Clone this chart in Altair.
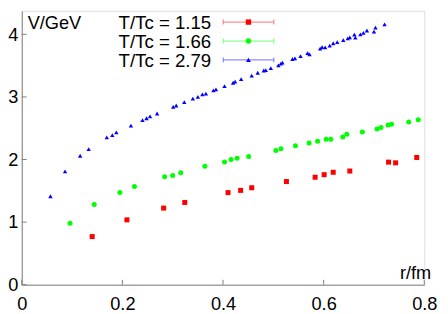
import altair as alt
import pandas as pd

# ---- data ----
r_115 = [0.140, 0.209, 0.282, 0.324, 0.410, 0.435, 0.457, 0.526, 0.583, 0.601, 0.619,
         0.652, 0.729, 0.743, 0.785]
v_115 = [0.769, 1.036, 1.224, 1.314, 1.471, 1.507, 1.549, 1.648, 1.717, 1.758, 1.796,
         1.816, 1.958, 1.947, 2.032]

r_166 = [0.096, 0.144, 0.195, 0.224, 0.284, 0.300, 0.316, 0.364, 0.403, 0.416, 0.428,
         0.451, 0.505, 0.515, 0.544, 0.571, 0.588, 0.605, 0.614, 0.638, 0.646, 0.677,
         0.706, 0.714, 0.728, 0.735, 0.769, 0.788]
v_166 = [0.980, 1.280, 1.473, 1.567, 1.724, 1.746, 1.787, 1.892, 1.962, 1.999, 2.019,
         2.050, 2.144, 2.171, 2.218, 2.265, 2.290, 2.322, 2.322, 2.361, 2.402, 2.439,
         2.486, 2.511, 2.553, 2.564, 2.600, 2.636]

r_279 = [0.057, 0.086, 0.116, 0.133, 0.169, 0.180, 0.188, 0.217, 0.240, 0.248, 0.255,
         0.269, 0.301, 0.307, 0.323, 0.340, 0.350, 0.359, 0.366, 0.381, 0.386, 0.403,
         0.420, 0.424, 0.436, 0.457, 0.469, 0.481, 0.485, 0.495, 0.510, 0.515, 0.518,
         0.538, 0.543, 0.554, 0.568, 0.572, 0.593, 0.597, 0.603, 0.612, 0.619, 0.627,
         0.639, 0.648, 0.652, 0.661, 0.663, 0.673, 0.679, 0.686, 0.700, 0.703, 0.721]
v_279 = [1.413, 1.812, 2.060, 2.165, 2.353, 2.389, 2.433, 2.542, 2.628, 2.659, 2.688,
         2.735, 2.840, 2.863, 2.918, 2.973, 3.002, 3.041, 3.053, 3.104, 3.119, 3.171,
         3.226, 3.245, 3.284, 3.339, 3.386, 3.422, 3.429, 3.460, 3.504, 3.532, 3.548,
         3.606, 3.617, 3.653, 3.700, 3.680, 3.771, 3.794, 3.790, 3.818, 3.857, 3.876,
         3.907, 3.936, 3.951, 3.994, 3.947, 3.998, 4.022, 4.061, 4.042, 4.108, 4.159]

labels = ["T/Tc = 1.15", "T/Tc = 1.66", "T/Tc = 2.79"]
colors = ["#ff0000", "#00ff00", "#0000ff"]
line_colors = ["#ff8c8c", "#8cff8c", "#8c8cff"]
shapes = ["square", "circle", "triangle-up"]
sizes = [26, 26, 20]
x_ticks = [0, 0.2, 0.4, 0.6, 0.8]
y_ticks = [0, 1, 2, 3, 4]

W, H = 410, 279
FONT = "Liberation Sans"
AX = "#7f7f7f"

xs = alt.Scale(domain=[0, 0.8], nice=False, zero=False)
ys = alt.Scale(domain=[0, 4.376], nice=False, zero=False)
xax = alt.Axis(values=x_ticks, format="~g", title=None, grid=False, tickSize=0,
               labelPadding=10, labelFontSize=18.5, labelFont=FONT, labelColor="black",
               domainColor=AX, labelFlush=False, labelOverlap=False)
yax = alt.Axis(values=y_ticks, format="d", title=None, grid=False, tickSize=0,
               labelPadding=4, labelFontSize=18.5, labelFont=FONT, labelColor="black",
               domainColor=AX, labelFlush=False, labelOverlap=False)

series = [(r_115, v_115), (r_166, v_166), (r_279, v_279)]
layers = []
for i, (rr, vv) in enumerate(series):
    df = pd.DataFrame({"r": rr, "v": vv})
    layers.append(
        alt.Chart(df).mark_point(filled=True, shape=shapes[i], size=sizes[i],
                                 color=colors[i], opacity=1, strokeWidth=0)
        .encode(x=alt.X("r:Q", scale=xs, axis=xax), y=alt.Y("v:Q", scale=ys, axis=yax))
    )

# inward ticks
layers.append(
    alt.Chart(pd.DataFrame({"t": x_ticks})).mark_rule(color=AX, strokeWidth=1)
    .encode(x=alt.X("t:Q", scale=xs, axis=xax), y=alt.value(H), y2=alt.value(H - 5))
)
layers.append(
    alt.Chart(pd.DataFrame({"t": y_ticks})).mark_rule(color=AX, strokeWidth=1)
    .encode(y=alt.Y("t:Q", scale=ys, axis=yax), x=alt.value(0), x2=alt.value(5))
)

# legend (drawn by hand, gnuplot style)
rows = [11.5, 30.8, 50.0]
lx0, lx1, lxm, ltx = 205.3, 256.7, 230.9, 193
for i, lab in enumerate(labels):
    d = pd.DataFrame({"label": [lab]})
    yr = rows[i]
    layers.append(alt.Chart(d).mark_text(align="right", baseline="middle", font=FONT,
                                         fontSize=19, color="black")
                  .encode(x=alt.value(ltx), y=alt.value(yr + 0.8), text="label:N"))
    layers.append(alt.Chart(d).mark_rule(color=line_colors[i], strokeWidth=1.3)
                  .encode(x=alt.value(lx0), x2=alt.value(lx1), y=alt.value(yr)))
    for xc in (lx0, lx1):
        layers.append(alt.Chart(d).mark_rule(color=line_colors[i], strokeWidth=1.3)
                      .encode(x=alt.value(xc), y=alt.value(yr - 2.5), y2=alt.value(yr + 2.5)))
    layers.append(alt.Chart(d).mark_point(filled=True, shape=shapes[i], size=sizes[i] + 4,
                                          color=colors[i], opacity=1, strokeWidth=0)
                  .encode(x=alt.value(lxm), y=alt.value(yr)))

# axis titles placed inside the frame
layers.append(alt.Chart(pd.DataFrame({"t": ["V/GeV"]}))
              .mark_text(align="left", baseline="middle", font=FONT, fontSize=18.5, color="black")
              .encode(x=alt.value(6), y=alt.value(12.5), text="t:N"))
layers.append(alt.Chart(pd.DataFrame({"t": ["r/fm"]}))
              .mark_text(align="right", baseline="middle", font=FONT, fontSize=18.5, color="black")
              .encode(x=alt.value(417), y=alt.value(267), text="t:N"))

chart = alt.layer(*layers).properties(
    width=W, height=H,
    autosize=alt.AutoSizeParams(type="none"),
    padding={"left": 14, "top": 0, "right": 16, "bottom": 27},
).configure_view(stroke=None).configure(background="white")

chart.save("out.html", embed_options={"renderer": "svg", "actions": False})
